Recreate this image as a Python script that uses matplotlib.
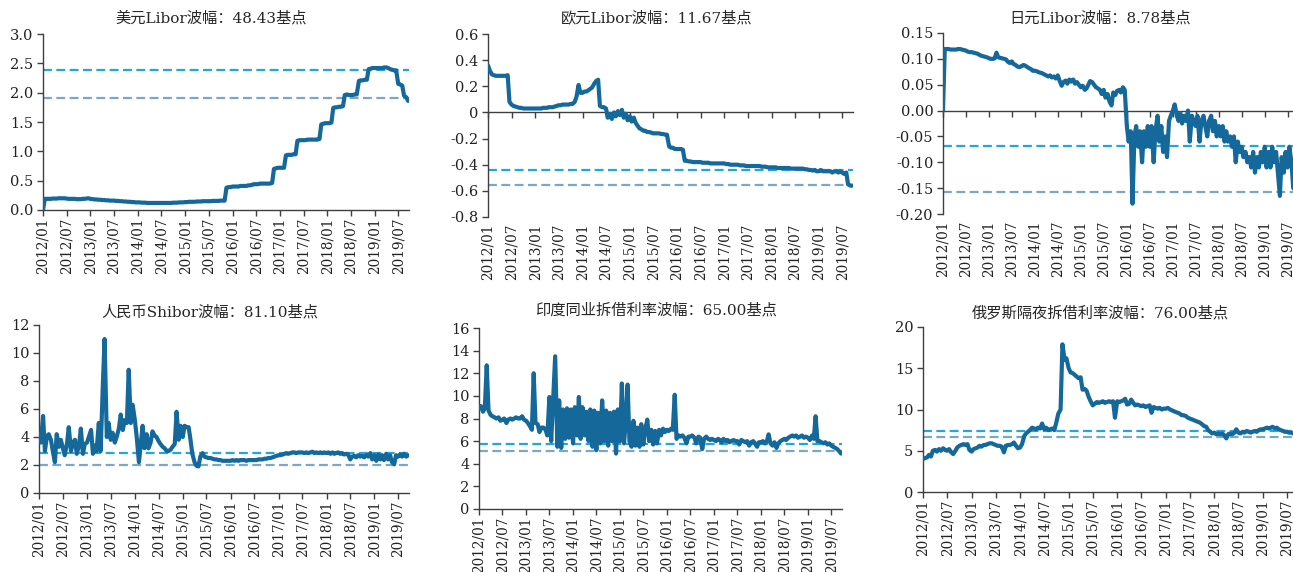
import matplotlib
matplotlib.use('Agg')
import matplotlib.pyplot as plt
import matplotlib.dates as mdates
import pandas as pd

plt.rcParams['font.family'] = ['DejaVu Serif', 'Noto Sans CJK SC']
plt.rcParams['axes.unicode_minus'] = False

# semi-monthly observations, 2012-01-01 .. 2019-09-15
N_OBS = 186
x_tick_labels = ['2012/01', '2012/07', '2013/01', '2013/07', '2014/01', '2014/07',
                 '2015/01', '2015/07', '2016/01', '2016/07', '2017/01', '2017/07',
                 '2018/01', '2018/07', '2019/01', '2019/07']
x_end = '2019-09-22'

titles = ['美元Libor波幅：48.43基点', '欧元Libor波幅：11.67基点', '日元Libor波幅：8.78基点',
          '人民币Shibor波幅：81.10基点', '印度同业拆借利率波幅：65.00基点',
          '俄罗斯隔夜拆借利率波幅：76.00基点']

usd = [
    0.0, 0.19, 0.19, 0.19, 0.19, 0.195, 0.195, 0.195, 0.20, 0.20, 0.20, 0.20,
    0.195, 0.19, 0.19, 0.19, 0.19, 0.185, 0.185, 0.185, 0.19, 0.19, 0.195, 0.20,
    0.19, 0.185, 0.18, 0.18, 0.175, 0.175, 0.17, 0.17, 0.165, 0.165, 0.16, 0.16,
    0.16, 0.155, 0.155, 0.15, 0.15, 0.145, 0.145, 0.14, 0.14, 0.135, 0.135, 0.13,
    0.13, 0.13, 0.125, 0.125, 0.125, 0.12, 0.12, 0.12, 0.12, 0.12, 0.12, 0.12,
    0.12, 0.12, 0.12, 0.12, 0.12, 0.12, 0.125, 0.125, 0.125, 0.13, 0.13, 0.13,
    0.135, 0.135, 0.14, 0.14, 0.14, 0.14, 0.145, 0.145, 0.145, 0.15, 0.15, 0.15,
    0.15, 0.15, 0.155, 0.155, 0.155, 0.155, 0.16, 0.16, 0.16, 0.38, 0.39, 0.39,
    0.40, 0.40, 0.40, 0.40, 0.41, 0.41, 0.41, 0.41, 0.42, 0.42, 0.43, 0.44,
    0.44, 0.44, 0.45, 0.45, 0.45, 0.45, 0.45, 0.45, 0.46, 0.70, 0.71, 0.72,
    0.72, 0.72, 0.72, 0.93, 0.94, 0.94, 0.94, 0.95, 0.95, 1.18, 1.19, 1.19,
    1.19, 1.19, 1.20, 1.20, 1.20, 1.20, 1.20, 1.20, 1.21, 1.46, 1.47, 1.48,
    1.48, 1.48, 1.49, 1.74, 1.75, 1.75, 1.76, 1.76, 1.77, 1.96, 1.97, 1.96,
    1.96, 1.96, 1.97, 1.97, 2.20, 2.21, 2.21, 2.22, 2.22, 2.40, 2.41, 2.42,
    2.42, 2.42, 2.42, 2.42, 2.42, 2.43, 2.43, 2.42, 2.40, 2.39, 2.38, 2.38,
    2.15, 2.14, 2.12, 1.95, 1.92, 1.86]

eur = [
    0.36, 0.32, 0.29, 0.285, 0.28, 0.28, 0.28, 0.28, 0.28, 0.28, 0.285, 0.08,
    0.06, 0.05, 0.045, 0.04, 0.035, 0.035, 0.03, 0.03, 0.03, 0.03, 0.03, 0.03,
    0.03, 0.03, 0.03, 0.03, 0.035, 0.035, 0.035, 0.04, 0.04, 0.04, 0.045, 0.05,
    0.055, 0.055, 0.06, 0.06, 0.06, 0.06, 0.065, 0.065, 0.08, 0.12, 0.21, 0.15,
    0.15, 0.16, 0.16, 0.17, 0.18, 0.19, 0.22, 0.24, 0.25, 0.05, 0.04, 0.04,
    0.03, -0.04, -0.01, -0.05, 0.0, -0.03, 0.01, -0.02, 0.02, -0.04, -0.01, -0.06,
    -0.03, -0.07, -0.04, -0.08, -0.10, -0.12, -0.13, -0.14, -0.14, -0.15, -0.15, -0.155,
    -0.16, -0.16, -0.16, -0.16, -0.165, -0.165, -0.17, -0.17, -0.26, -0.27, -0.27, -0.28,
    -0.28, -0.28, -0.28, -0.285, -0.37, -0.37, -0.375, -0.375, -0.38, -0.38, -0.38, -0.38,
    -0.38, -0.385, -0.385, -0.385, -0.385, -0.39, -0.39, -0.39, -0.39, -0.39, -0.39, -0.39,
    -0.39, -0.395, -0.395, -0.40, -0.40, -0.40, -0.40, -0.40, -0.405, -0.405, -0.405, -0.41,
    -0.41, -0.41, -0.41, -0.41, -0.41, -0.41, -0.41, -0.415, -0.415, -0.415, -0.42, -0.42,
    -0.42, -0.42, -0.42, -0.425, -0.425, -0.425, -0.425, -0.425, -0.425, -0.425, -0.43, -0.43,
    -0.43, -0.43, -0.43, -0.43, -0.43, -0.435, -0.435, -0.44, -0.44, -0.445, -0.44, -0.45,
    -0.45, -0.44, -0.45, -0.45, -0.45, -0.45, -0.45, -0.46, -0.45, -0.45, -0.46, -0.45,
    -0.46, -0.47, -0.46, -0.55, -0.56, -0.56]

jpy = [
    0.0, 0.119, 0.119, 0.119, 0.118, 0.118, 0.118, 0.118, 0.119, 0.119, 0.118, 0.117,
    0.116, 0.114, 0.113, 0.113, 0.112, 0.111, 0.110, 0.108, 0.106, 0.105, 0.104, 0.103,
    0.101, 0.100, 0.100, 0.101, 0.112, 0.103, 0.102, 0.101, 0.100, 0.099, 0.094, 0.092,
    0.095, 0.090, 0.088, 0.085, 0.084, 0.086, 0.088, 0.087, 0.084, 0.082, 0.080, 0.077,
    0.077, 0.076, 0.074, 0.073, 0.072, 0.070, 0.068, 0.066, 0.068, 0.064, 0.066, 0.062,
    0.068, 0.058, 0.048, 0.055, 0.058, 0.052, 0.060, 0.056, 0.060, 0.052, 0.055, 0.050,
    0.045, 0.048, 0.040, 0.043, 0.050, 0.057, 0.055, 0.050, 0.045, 0.043, 0.040, 0.032,
    0.040, 0.025, 0.032, 0.018, 0.010, 0.035, 0.030, 0.038, 0.040, 0.035, 0.045, 0.040,
    -0.03, -0.06, -0.04, -0.18, -0.05, -0.03, -0.07, -0.04, -0.10, -0.04, -0.07, -0.03,
    -0.07, -0.03, -0.10, -0.04, -0.01, -0.06, -0.03, -0.08, -0.05, -0.09, -0.02, -0.01,
    0.0, 0.012, -0.01, -0.02, -0.005, -0.025, -0.01, -0.02, 0.0, -0.06, -0.01, -0.02,
    -0.03, -0.01, -0.06, -0.02, -0.01, -0.03, -0.05, -0.02, -0.01, -0.04, -0.02, -0.05,
    -0.03, -0.05, -0.03, -0.06, -0.04, -0.06, -0.05, -0.07, -0.05, -0.10, -0.06, -0.08,
    -0.07, -0.09, -0.08, -0.10, -0.09, -0.11, -0.08, -0.12, -0.09, -0.11, -0.08, -0.10,
    -0.07, -0.11, -0.08, -0.11, -0.07, -0.10, -0.08, -0.12, -0.165, -0.09, -0.12, -0.08,
    -0.11, -0.07, -0.10, -0.15, -0.09, -0.10]

cny = [
    4.2, 3.6, 5.5, 3.0, 4.0, 4.2, 3.8, 3.0, 2.2, 4.2, 3.3, 3.8,
    3.2, 2.7, 3.5, 4.7, 3.0, 3.6, 3.8, 2.8, 3.4, 4.6, 2.8, 3.5,
    3.6, 4.0, 4.5, 2.8, 3.4, 3.0, 5.0, 3.0, 7.5, 11.0, 4.0, 5.0,
    3.8, 4.3, 3.6, 4.0, 4.6, 5.6, 4.5, 5.2, 5.0, 8.8, 5.0, 6.3,
    5.2, 4.0, 2.2, 3.5, 4.8, 3.2, 4.2, 3.2, 3.6, 4.4, 4.1, 4.0,
    3.7, 3.5, 3.3, 3.2, 3.0, 3.0, 3.1, 3.3, 3.5, 5.8, 3.8, 4.8,
    4.0, 4.8, 4.7, 4.7, 3.8, 2.8, 2.2, 1.95, 1.9, 2.6, 2.85, 2.6,
    2.55, 2.5, 2.5, 2.45, 2.4, 2.4, 2.35, 2.35, 2.3, 2.3, 2.3, 2.3,
    2.3, 2.35, 2.3, 2.35, 2.3, 2.35, 2.35, 2.35, 2.3, 2.35, 2.35, 2.35,
    2.35, 2.35, 2.4, 2.4, 2.4, 2.45, 2.45, 2.5, 2.5, 2.55, 2.6, 2.65,
    2.7, 2.7, 2.75, 2.8, 2.85, 2.8, 2.85, 2.9, 2.9, 2.85, 2.9, 2.9,
    2.9, 2.85, 2.9, 2.85, 2.9, 2.95, 2.85, 2.9, 2.85, 2.9, 2.85, 2.9,
    2.85, 2.9, 2.8, 2.9, 2.8, 2.85, 2.9, 2.8, 2.85, 2.75, 2.8, 2.75,
    2.4, 2.6, 2.65, 2.55, 2.7, 2.6, 2.65, 2.55, 2.7, 2.6, 2.85, 2.4,
    2.7, 2.3, 2.75, 2.4, 2.7, 2.35, 2.8, 2.4, 2.7, 2.2, 2.05, 2.7,
    2.6, 2.75, 2.6, 2.8, 2.6, 2.7]

inr = [
    8.9, 9.1, 8.6, 8.9, 12.7, 8.7, 8.3, 8.2, 8.1, 8.0, 8.1, 7.8,
    7.9, 8.0, 7.6, 7.9, 8.0, 7.9, 8.0, 8.1, 8.0, 8.0, 8.2, 7.9,
    7.8, 7.6, 7.3, 7.0, 12.0, 7.6, 7.5, 6.8, 7.2, 7.2, 7.0, 6.5,
    9.9, 6.0, 10.2, 13.5, 5.5, 9.6, 5.4, 8.8, 6.2, 8.9, 6.3, 8.8,
    5.8, 9.0, 6.5, 9.9, 6.2, 9.0, 6.5, 8.6, 6.0, 8.8, 5.5, 8.7,
    5.2, 8.5, 5.8, 9.6, 6.0, 8.7, 5.6, 8.5, 6.0, 8.6, 4.9, 8.8,
    6.0, 11.1, 5.8, 7.8, 11.0, 6.0, 5.5, 7.8, 5.6, 7.2, 5.5, 7.5,
    5.7, 7.0, 7.9, 6.0, 7.0, 5.7, 6.9, 5.8, 7.0, 6.5, 7.1, 6.8,
    7.0, 6.9, 7.1, 7.0, 10.1, 6.2, 6.5, 6.4, 6.5, 6.3, 5.8, 6.4,
    6.4, 6.5, 6.3, 5.8, 6.4, 6.3, 5.3, 6.2, 6.4, 6.2, 6.1, 6.2,
    6.1, 6.0, 6.2, 6.1, 5.9, 6.2, 6.0, 6.1, 5.9, 6.0, 6.1, 6.0,
    6.0, 5.7, 6.1, 6.0, 5.9, 6.0, 5.6, 5.9, 6.0, 5.8, 5.5, 5.9,
    5.9, 6.0, 5.8, 6.0, 6.6, 5.8, 5.6, 5.9, 5.4, 5.8, 6.0, 6.1,
    6.2, 6.1, 6.3, 6.4, 6.5, 6.4, 6.5, 6.3, 6.4, 6.5, 6.3, 6.4,
    6.3, 6.1, 6.5, 6.2, 8.2, 6.0, 6.0, 5.9, 5.8, 5.9, 5.7, 5.8,
    5.6, 5.5, 5.4, 5.3, 5.1, 4.9]

rub = [
    4.0, 4.1, 4.2, 4.5, 4.3, 5.0, 5.1, 4.9, 5.2, 5.0, 5.3, 5.1,
    5.0, 5.2, 4.8, 4.6, 5.0, 5.4, 5.6, 5.7, 5.8, 5.7, 5.8, 5.1,
    4.9, 5.2, 5.3, 5.4, 5.6, 5.5, 5.7, 5.7, 5.8, 5.9, 5.9, 5.8,
    5.7, 5.6, 5.6, 5.5, 4.8, 5.6, 5.7, 5.7, 5.8, 6.0, 5.6, 5.3,
    5.4, 5.8, 6.8, 7.1, 7.3, 7.5, 7.8, 7.7, 7.6, 7.8, 7.7, 8.3,
    7.6, 7.8, 7.5, 7.6, 7.7, 7.5, 8.5, 9.5, 10.0, 17.9, 16.0, 16.2,
    15.0, 14.5, 14.4, 14.2, 14.0, 13.8, 13.9, 12.4, 12.5, 12.3, 11.5, 11.0,
    10.5, 10.7, 10.9, 10.8, 10.9, 11.0, 10.8, 10.9, 11.0, 10.9, 11.0, 9.0,
    11.0, 10.9, 11.0, 11.1, 11.3, 10.6, 10.7, 11.2, 10.8, 10.5, 10.6, 10.5,
    10.4, 10.5, 10.3, 10.4, 10.5, 9.6, 10.3, 10.2, 10.1, 10.2, 10.0, 10.1,
    10.1, 10.2, 10.0, 9.9, 9.8, 9.7, 9.6, 9.5, 9.3, 9.3, 9.2, 9.0,
    8.9, 8.8, 8.7, 8.6, 8.5, 8.4, 8.2, 8.0, 7.9, 7.5, 7.3, 7.1,
    7.2, 7.0, 7.1, 7.0, 7.1, 6.9, 6.5, 7.0, 7.1, 7.0, 7.2, 7.6,
    7.2, 7.1, 7.3, 7.2, 7.4, 7.3, 7.2, 7.3, 7.4, 7.3, 7.5, 7.6,
    7.6, 7.7, 7.8, 7.7, 7.8, 7.9, 7.7, 7.8, 7.6, 7.5, 7.4, 7.3,
    7.3, 7.2, 7.2, 7.1, 7.0, 7.0]

# reference levels (upper, lower) whose gap is the quoted range
bands = [(2.3935, 1.9092), (-0.4400, -0.5567), (-0.0690, -0.1568),
         (2.830, 2.019), (5.75, 5.10), (7.45, 6.69)]

y_ticks = [
    ['0.0', '0.5', '1.0', '1.5', '2.0', '2.5', '3.0'],
    ['-0.8', '-0.6', '-0.4', '-0.2', '0', '0.2', '0.4', '0.6'],
    ['-0.20', '-0.15', '-0.10', '-0.05', '0.00', '0.05', '0.10', '0.15'],
    ['0', '2', '4', '6', '8', '10', '12'],
    ['0', '2', '4', '6', '8', '10', '12', '14', '16'],
    ['0', '5', '10', '15', '20'],
]

series = [usd, eur, jpy, cny, inr, rub]

# axes boxes in figure pixels: left, right, top, bottom
W, H = 1293, 572
boxes = [(43, 409, 34, 210), (488, 853, 34, 217), (943, 1298, 33, 214),
         (39, 409, 325, 493), (479, 842, 328, 509), (923, 1298, 327, 492)]
title_pos = [(211, 18), (657, 18), (1100, 18), (210, 312), (656, 310), (1100, 313)]

LINE = '#15699a'
UPPER = '#22a6de'
LOWER = '#7aa7c6'
AXIS = '#3f3f3f'
TICK_FS = 9.8

fig = plt.figure(figsize=(W / 100, H / 100), dpi=100)

dates = pd.date_range('2012-01-01', periods=N_OBS, freq='SMS')
xd = mdates.date2num(dates)
tick_x = mdates.date2num(pd.to_datetime(x_tick_labels, format='%Y/%m'))
x_lo = mdates.date2num(pd.Timestamp('2012-01-01'))
x_hi = mdates.date2num(pd.Timestamp(x_end))

for i, (vals, (l, r, t, b)) in enumerate(zip(series, boxes)):
    ax = fig.add_axes([l / W, 1 - b / H, (r - l) / W, (b - t) / H])
    ax.plot(xd[:len(vals)], vals, color=LINE, lw=3.0, solid_joinstyle='round',
            solid_capstyle='round', zorder=3)
    up, lo = bands[i]
    ax.axhline(up, color=UPPER, lw=1.6, dashes=(4, 2), zorder=2)
    ax.axhline(lo, color=LOWER, lw=1.6, dashes=(4, 2), zorder=2)

    yl = [float(s) for s in y_ticks[i]]
    ax.set_ylim(yl[0], yl[-1])
    ax.set_yticks(yl)
    ax.set_yticklabels(y_ticks[i], fontsize=10.5, color='#222222')
    ax.set_xlim(x_lo, x_hi)

    for s in ('top', 'right'):
        ax.spines[s].set_visible(False)
    ax.spines['left'].set_color(AXIS)
    ax.spines['bottom'].set_color(AXIS)
    ax.spines['left'].set_linewidth(1.0)
    ax.spines['bottom'].set_linewidth(1.0)
    ax.tick_params(axis='y', direction='out', length=4, width=1.0, color=AXIS, pad=3)

    if yl[0] < 0:
        # category line crosses at zero, labels stay at the bottom
        ax.spines['bottom'].set_position(('data', 0))
        ax.set_xticks(tick_x)
        ax.tick_params(axis='x', direction='out', length=4, width=1.0, color=AXIS,
                       labelbottom=False)
        sec = ax.secondary_xaxis(0.0)
        sec.set_xticks(tick_x)
        sec.set_xticklabels(x_tick_labels, rotation=90, fontsize=TICK_FS, color='#222222')
        sec.spines['bottom'].set_visible(False)
        sec.tick_params(axis='x', length=0, pad=5)
    else:
        ax.set_xticks(tick_x)
        ax.set_xticklabels(x_tick_labels, rotation=90, fontsize=TICK_FS, color='#222222')
        ax.tick_params(axis='x', direction='out', length=4, width=1.0, color=AXIS, pad=1.5)

    tx, ty = title_pos[i]
    fig.text(tx / W, 1 - ty / H, titles[i], ha='center', va='center', fontsize=11,
             color='#262626')

fig.savefig('out.png', dpi=100)
